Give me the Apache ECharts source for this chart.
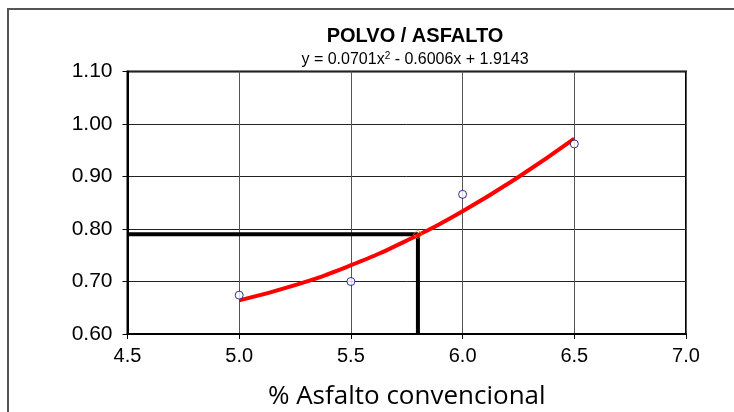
<!DOCTYPE html>
<html>
<head>
<meta charset="utf-8">
<script src="https://cdn.jsdelivr.net/npm/echarts@6/dist/echarts.min.js"></script>
<style>
  html, body { margin: 0; padding: 0; background: #fff; }
  #chart { width: 734px; height: 412px; }
</style>
</head>
<body>
<div id="chart"></div>
<script>
// measured points (% asphalt -> dust/asphalt ratio)
const asfalto = [5.0, 5.5, 6.0, 6.5]
const relacion = [0.674, 0.700, 0.866, 0.962]

// trendline
const curvaX = [5.0, 5.25, 5.5, 5.75, 6.0, 6.25, 6.5]
const curvaY = [0.664, 0.693, 0.731, 0.778, 0.834, 0.899, 0.972]

// design value read on the curve
const optimoX = 5.8
const optimoY = 0.79

const yTicks = ['0.60', '0.70', '0.80', '0.90', '1.00', '1.10']

const chart = echarts.init(document.getElementById('chart'))

const option = {
  backgroundColor: '#ffffff',
  animation: false,
  title: {
    text: 'POLVO / ASFALTO',
    subtext: '{a|y = 0.0701x}{s|2}{a| - 0.6006x + 1.9143}',
    left: 410,
    textAlign: 'center',
    top: 21,
    itemGap: 5,
    textStyle: {
      fontFamily: 'Liberation Sans',
      fontWeight: 'bold',
      fontSize: 20,
      color: '#000',
    },
    subtextStyle: {
      rich: {
        a: { fontFamily: 'Liberation Sans', fontSize: 16, color: '#000' },
        s: { fontFamily: 'Liberation Sans', fontSize: 10, color: '#000', verticalAlign: 'top', padding: [0, 0, 8, 0] },
      },
    },
  },
  graphic: [
    {
      type: 'polyline',
      shape: { points: [[8, 412], [8, 9], [734, 9]] },
      style: { stroke: '#555', lineWidth: 2, fill: null },
      silent: true,
    },
  ],
  grid: {
    left: 127.5,
    right: 48,
    top: 71.5,
    bottom: 78,
    outerBoundsMode: 'none',
    containLabel: false,
    show: true,
    borderColor: '#000',
    borderWidth: 2,
    backgroundColor: 'transparent',
  },
  xAxis: {
    type: 'value',
    min: 4.5,
    max: 7.0,
    interval: 0.5,
    name: '% Asfalto convencional',
    nameLocation: 'middle',
    nameGap: 50,
    nameTextStyle: { fontFamily: 'Open Sans', fontSize: 26, color: '#000' },
    axisLine: { show: true, lineStyle: { color: '#000', width: 2 } },
    axisTick: { show: true, inside: false, length: 5, lineStyle: { color: '#000' } },
    axisLabel: {
      fontFamily: 'Liberation Sans',
      fontSize: 20,
      color: '#000',
      margin: 12,
      formatter: (v) => v.toFixed(1),
    },
    splitLine: { show: true, lineStyle: { color: '#555', width: 1 } },
  },
  yAxis: {
    type: 'value',
    min: 0.6,
    max: 1.1,
    interval: 0.1,
    axisLine: { show: true, lineStyle: { color: '#000', width: 2 } },
    axisTick: { show: true, inside: false, length: 5, lineStyle: { color: '#000' } },
    axisLabel: {
      fontFamily: 'Liberation Sans',
      fontSize: 21,
      color: '#000',
      margin: 15,
      formatter: (v) => yTicks[Math.round((v - 0.6) * 10)],
    },
    splitLine: { show: true, lineStyle: { color: '#222', width: 1 } },
  },
  series: [
    {
      name: 'horizontal',
      type: 'line',
      data: [[4.5, optimoY], [optimoX, optimoY]],
      symbol: 'none',
      lineStyle: { color: '#000', width: 4 },
      z: 3,
    },
    {
      name: 'vertical',
      type: 'line',
      data: [[optimoX, 0.6], [optimoX, optimoY]],
      symbol: 'none',
      lineStyle: { color: '#000', width: 4 },
      z: 3,
    },
    {
      name: 'tendencia',
      type: 'line',
      smooth: true,
      data: curvaX.map((x, i) => [x, curvaY[i]]),
      symbol: 'none',
      lineStyle: { color: '#ff0000', width: 4 },
      z: 4,
    },
    {
      name: 'optimo',
      type: 'scatter',
      data: [[optimoX, optimoY]],
      symbol: 'diamond',
      symbolSize: 9,
      itemStyle: { color: 'rgba(0,0,0,0)', borderColor: '#e08a1e', borderWidth: 1 },
      z: 5,
    },
    {
      name: 'datos',
      type: 'scatter',
      data: asfalto.map((x, i) => [x, relacion[i]]),
      symbol: 'circle',
      symbolSize: 8,
      itemStyle: { color: '#ffffff', borderColor: '#000080', borderWidth: 1 },
      z: 5,
    },
  ],
}

chart.setOption(option)
</script>
</body>
</html>
